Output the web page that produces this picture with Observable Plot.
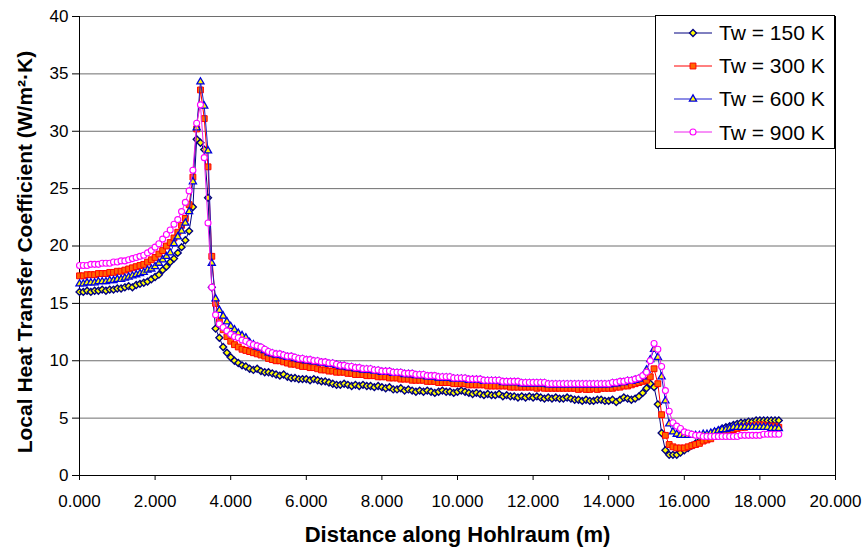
<!DOCTYPE html>
<html><head><meta charset="utf-8">
<script src="https://cdn.jsdelivr.net/npm/d3@7"></script>
<script src="https://cdn.jsdelivr.net/npm/@observablehq/plot@0.6"></script>
<style>
body{margin:0;background:#fff;font-family:"Liberation Sans",Arial,sans-serif;}
#wrap{position:relative;width:863px;height:548px;}
#legend{position:absolute;left:655px;top:15px;width:180px;height:134px;border:1px solid #000;background:#fff;box-sizing:border-box;}
.row{display:flex;align-items:center;height:33.2px;}
.row svg{margin-left:18px;}
.row span{margin-left:5px;font-size:21px;color:#000;line-height:1;}
</style></head><body><div id="wrap"></div>
<script>
// ---------- data ----------
const distance = [
0.0,0.1,0.2,0.3,0.4,0.5,0.6,0.7,0.8,0.9,
1.0,1.1,1.2,1.3,1.4,1.5,1.6,1.7,1.8,1.9,
2.0,2.1,2.2,2.3,2.4,2.5,2.6,2.7,2.8,2.9,
3.0,3.1,3.2,3.3,3.4,3.5,3.6,3.7,3.8,3.9,
4.0,4.1,4.2,4.3,4.4,4.5,4.6,4.7,4.8,4.9,
5.0,5.1,5.2,5.3,5.4,5.5,5.6,5.7,5.8,5.9,
6.0,6.1,6.2,6.3,6.4,6.5,6.6,6.7,6.8,6.9,
7.0,7.1,7.2,7.3,7.4,7.5,7.6,7.7,7.8,7.9,
8.0,8.1,8.2,8.3,8.4,8.5,8.6,8.7,8.8,8.9,
9.0,9.1,9.2,9.3,9.4,9.5,9.6,9.7,9.8,9.9,
10.0,10.1,10.2,10.3,10.4,10.5,10.6,10.7,10.8,10.9,
11.0,11.1,11.2,11.3,11.4,11.5,11.6,11.7,11.8,11.9,
12.0,12.1,12.2,12.3,12.4,12.5,12.6,12.7,12.8,12.9,
13.0,13.1,13.2,13.3,13.4,13.5,13.6,13.7,13.8,13.9,
14.0,14.1,14.2,14.3,14.4,14.5,14.6,14.7,14.8,14.9,
15.0,15.1,15.2,15.3,15.4,15.5,15.6,15.7,15.8,15.9,
16.0,16.1,16.2,16.3,16.4,16.5,16.6,16.7,16.8,16.9,
17.0,17.1,17.2,17.3,17.4,17.5,17.6,17.7,17.8,17.9,
18.0,18.1,18.2,18.3,18.4,18.5];

const tw150 = [
16.0,16.0,16.1,16.0,16.1,16.1,16.2,16.1,16.2,16.2,
16.3,16.3,16.4,16.5,16.4,16.6,16.7,16.8,16.9,17.1,
17.3,17.5,17.9,18.2,18.6,18.9,19.4,19.9,20.5,21.3,
23.4,29.3,29.0,28.4,24.2,16.4,12.8,12.0,11.2,10.7,
10.3,10.0,9.8,9.6,9.5,9.3,9.2,9.3,9.1,9.0,
9.0,8.9,8.8,8.7,8.8,8.6,8.5,8.5,8.4,8.4,
8.4,8.3,8.4,8.3,8.2,8.2,8.1,8.0,7.9,7.9,
8.0,7.9,7.8,7.9,7.8,7.9,7.8,7.8,7.7,7.8,
7.7,7.6,7.7,7.5,7.5,7.6,7.4,7.5,7.4,7.3,
7.4,7.3,7.4,7.3,7.2,7.3,7.4,7.3,7.3,7.2,
7.3,7.4,7.3,7.2,7.1,7.2,7.1,7.0,7.1,7.0,
7.0,7.1,6.9,7.0,6.9,6.9,6.8,6.9,6.8,6.9,
6.8,6.9,6.8,6.7,6.8,6.7,6.8,6.7,6.7,6.8,
6.7,6.6,6.6,6.5,6.6,6.5,6.5,6.6,6.6,6.5,
6.5,6.6,6.4,6.6,6.8,6.7,6.6,6.7,6.9,7.2,
7.6,8.0,7.7,6.2,3.7,2.2,1.8,1.8,1.8,2.0,
2.2,2.4,2.6,2.8,3.0,3.2,3.4,3.6,3.8,3.9,
4.1,4.2,4.3,4.4,4.5,4.6,4.6,4.7,4.7,4.8,
4.8,4.8,4.8,4.8,4.8,4.8];

const tw300 = [
17.4,17.4,17.5,17.5,17.5,17.6,17.6,17.6,17.7,17.7,
17.8,17.8,17.9,18.0,18.1,18.2,18.3,18.4,18.6,18.8,
19.0,19.3,19.6,20.0,20.3,20.7,21.2,21.8,22.4,23.6,
26.0,30.2,33.6,31.1,26.9,19.1,15.0,13.4,12.7,12.1,
11.7,11.4,11.2,11.0,10.9,10.8,10.7,10.6,10.5,10.4,
10.2,10.1,10.0,10.0,9.9,9.8,9.7,9.7,9.6,9.5,
9.5,9.4,9.4,9.3,9.2,9.2,9.1,9.1,9.0,9.0,
9.0,8.9,8.9,8.8,8.8,8.8,8.7,8.7,8.7,8.6,
8.6,8.6,8.5,8.5,8.5,8.4,8.4,8.4,8.3,8.3,
8.3,8.3,8.2,8.2,8.2,8.1,8.1,8.1,8.1,8.0,
8.0,8.0,8.0,7.9,7.9,7.9,7.9,7.9,7.8,7.8,
7.8,7.8,7.8,7.8,7.7,7.7,7.7,7.7,7.7,7.7,
7.7,7.6,7.7,7.6,7.6,7.6,7.6,7.6,7.6,7.6,
7.6,7.6,7.5,7.6,7.5,7.5,7.6,7.5,7.6,7.6,
7.6,7.6,7.7,7.7,7.8,7.8,7.9,8.0,8.1,8.2,
8.3,8.6,9.3,8.0,5.3,3.5,2.7,2.5,2.4,2.4,
2.4,2.5,2.6,2.7,2.8,3.0,3.1,3.2,3.4,3.5,
3.7,3.8,3.9,4.0,4.1,4.2,4.2,4.3,4.3,4.4,
4.4,4.4,4.3,4.3,4.3,4.2];

const tw600 = [
16.7,16.7,16.8,16.8,16.8,16.9,16.9,16.9,17.0,17.0,
17.1,17.1,17.2,17.3,17.4,17.5,17.6,17.7,17.9,18.0,
18.2,18.5,18.8,19.1,19.4,20.2,20.8,21.3,22.0,23.0,
25.6,30.3,34.3,32.2,28.3,18.5,15.4,14.4,13.9,13.4,
13.0,12.7,12.4,12.2,12.0,11.6,11.4,11.2,11.1,10.9,
10.7,10.6,10.5,10.5,10.4,10.3,10.3,10.2,10.1,10.1,
10.0,10.0,9.9,9.9,9.8,9.8,9.7,9.7,9.6,9.5,
9.5,9.4,9.4,9.3,9.3,9.2,9.2,9.2,9.1,9.1,
9.0,9.0,9.0,8.9,8.9,8.9,8.8,8.8,8.8,8.7,
8.7,8.7,8.6,8.6,8.6,8.5,8.5,8.5,8.5,8.4,
8.4,8.4,8.4,8.3,8.3,8.3,8.3,8.2,8.2,8.2,
8.2,8.2,8.1,8.1,8.1,8.1,8.1,8.0,8.0,8.0,
8.0,8.0,8.0,8.0,7.9,7.9,7.9,7.9,7.9,7.9,
7.9,7.9,7.9,7.9,7.9,7.9,7.9,7.9,7.9,7.9,
7.9,8.0,8.0,8.1,8.1,8.2,8.2,8.3,8.4,8.6,
9.2,10.1,11.0,10.3,8.6,6.5,4.5,3.8,3.6,3.5,
3.5,3.5,3.5,3.5,3.5,3.6,3.6,3.7,3.8,3.9,
4.0,4.0,4.1,4.2,4.2,4.2,4.2,4.2,4.2,4.2,
4.2,4.2,4.2,4.1,4.1,4.1];

const tw900 = [
18.3,18.3,18.3,18.4,18.4,18.4,18.5,18.5,18.5,18.6,
18.6,18.7,18.7,18.8,18.9,19.0,19.1,19.2,19.4,19.6,
19.9,20.2,20.6,21.0,21.4,21.9,22.3,23.0,23.8,24.8,
26.6,30.7,32.3,27.7,22.0,16.4,14.0,13.2,12.9,12.6,
12.3,12.1,12.0,11.8,11.7,11.5,11.4,11.3,11.2,11.0,
10.8,10.7,10.6,10.6,10.5,10.4,10.4,10.3,10.2,10.2,
10.1,10.1,10.0,10.0,9.9,9.9,9.8,9.8,9.7,9.6,
9.6,9.5,9.5,9.4,9.4,9.3,9.3,9.3,9.2,9.2,
9.1,9.1,9.1,9.0,9.0,9.0,8.9,8.9,8.9,8.8,
8.8,8.8,8.7,8.7,8.7,8.6,8.6,8.6,8.6,8.5,
8.5,8.5,8.5,8.4,8.4,8.4,8.4,8.3,8.3,8.3,
8.3,8.3,8.2,8.2,8.2,8.2,8.2,8.1,8.1,8.1,
8.1,8.1,8.1,8.1,8.0,8.0,8.0,8.0,8.0,8.0,
8.0,8.0,8.0,8.0,8.0,8.0,8.0,8.0,8.0,8.0,
8.0,8.1,8.1,8.2,8.2,8.3,8.3,8.4,8.5,8.7,
9.0,10.0,11.5,11.0,9.5,7.4,5.6,4.6,4.3,4.1,
3.8,3.7,3.6,3.5,3.5,3.4,3.4,3.4,3.4,3.4,
3.4,3.4,3.4,3.4,3.4,3.5,3.5,3.5,3.5,3.5,
3.5,3.6,3.6,3.6,3.6,3.6];

const seriesNames = ["Tw = 150 K", "Tw = 300 K", "Tw = 600 K", "Tw = 900 K"];
const xTicks = [0, 2, 4, 6, 8, 10, 12, 14, 16, 18, 20];
const yTicks = [0, 5, 10, 15, 20, 25, 30, 35, 40];
const xTitle = "Distance along Hohlraum (m)";
const yTitle = "Local Heat Transfer Coefficient (W/m\u00B2\u00B7K)";

// ---------- styles ----------
const styles = [
  {values: tw150, line: "#000080", stroke: "#000080", fill: "#ffff00", symbol: "diamond2", r: 3.1, sw: 1.4},
  {values: tw300, line: "#ff0000", stroke: "#ff0000", fill: "#ff6600", symbol: "square", r: 3.3, sw: 1},
  {values: tw600, line: "#1a1acc", stroke: "#0000dd", fill: "#ffff00", symbol: "triangle2", r: 3.4, sw: 1.3},
  {values: tw900, line: "#ee22ee", stroke: "#ff00ff", fill: "#ffffff", symbol: "circle", r: 3.0, sw: 1.1}
];

const marks = [
  Plot.ruleY(yTicks.filter(d => d > 0), {stroke: "#6e6e6e", strokeWidth: 1}),
  Plot.ruleX([xTicks[xTicks.length - 1]], {stroke: "#000"}),
  Plot.axisX({ticks: xTicks, tickFormat: d3.format(".3f"), tickSize: 5, tickPadding: 14, fontSize: 17, label: null, stroke: "#000"}),
  Plot.axisY({ticks: yTicks, tickSize: 7, tickPadding: 4, fontSize: 17, label: null, stroke: "#000"}),
  Plot.ruleX([0], {stroke: "#000"}),
  Plot.ruleY([0], {stroke: "#000"})
];
styles.forEach((s, i) => {
  const rows = distance.map((d, j) => ({d, v: s.values[j], name: seriesNames[i]}));
  marks.push(Plot.line(rows, {x: "d", y: "v", stroke: s.line, strokeWidth: 1}));
  marks.push(Plot.dot(rows, {x: "d", y: "v", symbol: s.symbol, r: s.r, stroke: s.stroke, fill: s.fill, strokeWidth: s.sw}));
});
marks.push(Plot.text([xTitle], {frameAnchor: "bottom", dy: 66, fontWeight: "bold", fontSize: 22, fill: "#000"}));
marks.push(Plot.text([yTitle], {frameAnchor: "left", textAnchor: "middle", rotate: -90, dx: -54, dy: 6, fontWeight: "bold", fontSize: 21, fill: "#000"}));

const chart = Plot.plot({
  width: 863, height: 548,
  marginLeft: 79, marginRight: 28, marginTop: 16, marginBottom: 73,
  x: {domain: [0, 20]},
  y: {domain: [0, 40]},
  style: {fontFamily: "'Liberation Sans', Arial, sans-serif", background: "#fff", color: "#000", overflow: "visible"},
  marks
});
const wrap = document.getElementById("wrap");
wrap.appendChild(chart);

// legend
const legend = document.createElement("div");
legend.id = "legend";
const symMap = {diamond2: d3.symbolDiamond2, square: d3.symbolSquare, triangle2: d3.symbolTriangle2, circle: d3.symbolCircle};
styles.forEach((s, i) => {
  const row = document.createElement("div");
  row.className = "row";
  const svg = d3.create("svg").attr("width", 40).attr("height", 14);
  svg.append("line").attr("x1", 0).attr("x2", 38).attr("y1", 7).attr("y2", 7).attr("stroke", s.line).attr("stroke-width", 1);
  svg.append("path").attr("transform", "translate(19,7)")
    .attr("d", d3.symbol(symMap[s.symbol], Math.PI * s.r * s.r)())
    .attr("fill", s.fill).attr("stroke", s.stroke).attr("stroke-width", s.sw);
  row.appendChild(svg.node());
  const span = document.createElement("span");
  span.textContent = seriesNames[i];
  row.appendChild(span);
  legend.appendChild(row);
});
wrap.appendChild(legend);
</script></body></html>
